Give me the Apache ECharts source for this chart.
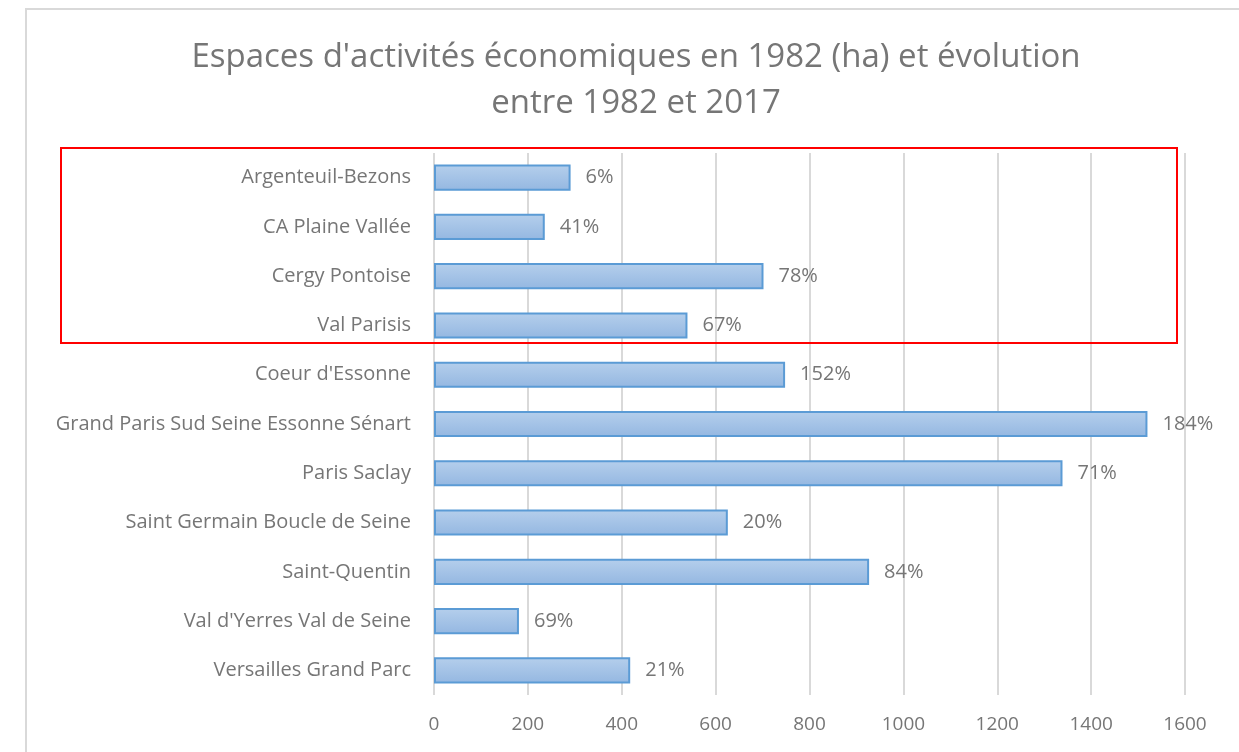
<!DOCTYPE html>
<html>
<head>
<meta charset="utf-8">
<script src="https://cdn.jsdelivr.net/npm/echarts@6/dist/echarts.min.js"></script>
<style>
html, body { margin: 0; padding: 0; background: #fff; }
#chart { width: 1239px; height: 752px; }
</style>
</head>
<body>
<div id="chart"></div>
<script>
// territoires, surfaces 1982 (ha) et évolution 1982-2017
const territoires = [
  'Argenteuil-Bezons',
  'CA Plaine Vallée',
  'Cergy Pontoise',
  'Val Parisis',
  "Coeur d'Essonne",
  'Grand Paris Sud Seine Essonne Sénart',
  'Paris Saclay',
  'Saint Germain Boucle de Seine',
  'Saint-Quentin',
  "Val d'Yerres Val de Seine",
  'Versailles Grand Parc'
]
const surfaces1982 = [291, 236, 702, 540, 748, 1520, 1339, 626, 927, 181, 418]
const evolutions = ['6%', '41%', '78%', '67%', '152%', '184%', '71%', '20%', '84%', '69%', '21%']
const xTicks = [0, 1600, 200]  // min, max, pas

const grey = '#767676'
const font = 'Open Sans'

const chart = echarts.init(document.getElementById('chart'))
const option = {
  backgroundColor: '#fff',
  animation: false,
  title: {
    text: "Espaces d'activités économiques en 1982 (ha) et évolution\nentre 1982 et 2017",
    left: 631,
    textAlign: 'center',
    top: 30,
    textStyle: {
      color: grey,
      fontFamily: font,
      fontWeight: 'normal',
      fontSize: 33,
      lineHeight: 46
    }
  },
  grid: {
    left: 434,
    top: 153,
    width: 751,
    height: 542
  },
  xAxis: {
    type: 'value',
    min: xTicks[0],
    max: xTicks[1],
    interval: xTicks[2],
    axisLine: { show: false },
    axisTick: { show: false },
    axisLabel: { color: grey, fontFamily: font, fontSize: 19, margin: 20, formatter: v => String(v) },
    splitLine: { lineStyle: { color: '#d9d9d9', width: 2 } }
  },
  yAxis: {
    type: 'category',
    inverse: true,
    data: territoires,
    axisLine: { show: false },
    axisTick: { show: false },
    axisLabel: { color: grey, fontFamily: font, fontSize: 20, margin: 23 }
  },
  series: [
    {
      type: 'bar',
      data: surfaces1982.map((v, i) => ({ value: v, label: { formatter: evolutions[i] } })),
      barCategoryGap: '47%',
      itemStyle: {
        color: new echarts.graphic.LinearGradient(0, 0, 0, 1, [
          { offset: 0, color: '#b5cfec' },
          { offset: 1, color: '#94b7e1' }
        ]),
        borderColor: '#5b9bd5',
        borderWidth: 2
      },
      label: {
        show: true,
        position: 'right',
        distance: 15,
        color: grey,
        fontFamily: font,
        fontSize: 20
      }
    }
  ],
  graphic: [
    {
      type: 'rect',
      shape: { x: 26, y: 9, width: 1240, height: 760 },
      style: { fill: 'none', stroke: '#d9d9d9', lineWidth: 2 },
      silent: true
    },
    {
      type: 'rect',
      shape: { x: 61, y: 148, width: 1116, height: 195 },
      style: { fill: 'none', stroke: '#ff0000', lineWidth: 2 },
      silent: true,
      z: 100
    }
  ]
}
chart.setOption(option)
</script>
</body>
</html>
